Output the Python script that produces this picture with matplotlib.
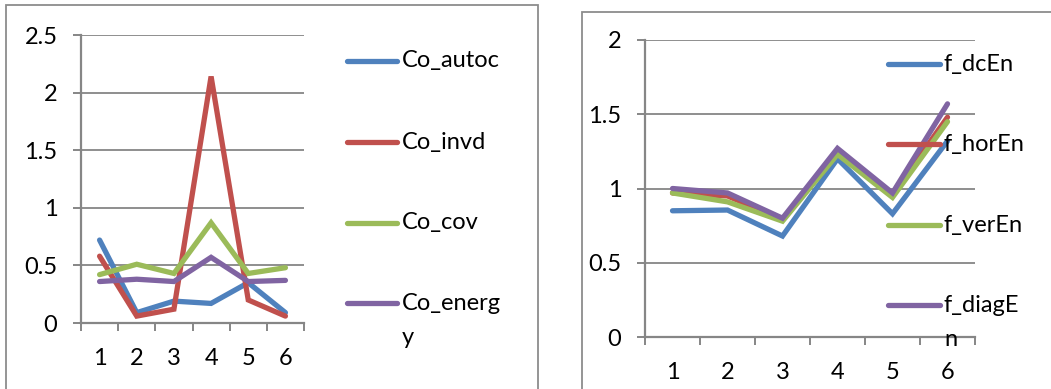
import matplotlib
matplotlib.use("Agg")
import matplotlib.pyplot as plt
from matplotlib.lines import Line2D
from matplotlib.patches import Rectangle
from matplotlib.ticker import FixedLocator, NullFormatter

plt.rcParams['font.family'] = ['Lato', 'DejaVu Sans']

categories = [1, 2, 3, 4, 5, 6]

left_names = ["Co_autoc", "Co_invd", "Co_cov", "Co_energy"]
co_autoc = [0.72, 0.09, 0.19, 0.17, 0.35, 0.09]
co_invd = [0.58, 0.06, 0.12, 2.14, 0.20, 0.06]
co_cov = [0.42, 0.51, 0.43, 0.87, 0.43, 0.48]
co_energy = [0.36, 0.38, 0.36, 0.57, 0.36, 0.37]
left_yticks = [0, 0.5, 1, 1.5, 2, 2.5]
left_yticklabels = ["0", "0.5", "1", "1.5", "2", "2.5"]

right_names = ["f_dcEn", "f_horEn", "f_verEn", "f_diagEn"]
f_dcEn = [0.85, 0.855, 0.68, 1.20, 0.83, 1.32]
f_horEn = [0.97, 0.95, 0.79, 1.25, 0.96, 1.48]
f_verEn = [0.97, 0.91, 0.78, 1.23, 0.94, 1.45]
f_diagEn = [1.00, 0.97, 0.80, 1.27, 0.97, 1.57]
right_yticks = [0, 0.5, 1, 1.5, 2]
right_yticklabels = ["0", "0.5", "1", "1.5", "2"]

colors = ["#4F81BD", "#C0504D", "#9BBB59", "#8064A2"]
grid_c = "#868686"
FS = 17

W, H = 1051, 389
fig = plt.figure(figsize=(W / 100, H / 100), dpi=100)


def px_box(x0, y0, x1, y1):
    return [x0 / W, 1 - y1 / H, (x1 - x0) / W, (y1 - y0) / H]


def setup_axes(ax, ymax, yticks, yticklabels):
    n = len(categories)
    ax.set_xlim(0.5, n + 0.5)
    ax.set_ylim(0, ymax)
    for s in ["top", "right"]:
        ax.spines[s].set_visible(False)
    for s in ["left", "bottom"]:
        ax.spines[s].set_color(grid_c)
        ax.spines[s].set_linewidth(1.6)
    ax.set_yticks(yticks)
    ax.set_yticklabels(yticklabels)
    ax.set_xticks(categories)
    ax.set_xticklabels([str(c) for c in categories])
    ax.xaxis.set_minor_locator(FixedLocator([i + 0.5 for i in range(n + 1)]))
    ax.xaxis.set_minor_formatter(NullFormatter())
    ax.tick_params(axis='x', which='major', length=0, pad=18, labelsize=FS)
    ax.tick_params(axis='x', which='minor', length=6, width=1.4, color=grid_c, direction='out')
    ax.tick_params(axis='y', which='major', length=6, width=1.4, color=grid_c, pad=11, labelsize=FS)
    ax.yaxis.grid(True, color=grid_c, linewidth=1.3)
    ax.set_axisbelow(True)
    ax.set_facecolor("none")


def draw_legend(names, handle_x0, handle_x1, text_x, ys, wrap, line_h):
    for name, y, c in zip(names, ys, colors):
        fig.add_artist(Line2D([handle_x0 / W, handle_x1 / W], [1 - y / H, 1 - y / H],
                              color=c, lw=3.8, solid_capstyle='round', transform=fig.transFigure))
        parts = [name[:wrap]] + ([name[wrap:]] if len(name) > wrap else [])
        for i, p in enumerate(parts):
            fig.text(text_x / W, 1 - (y + i * line_h) / H, p, fontsize=FS,
                     va='center', ha='left')


# chart borders
fig.add_artist(Rectangle((6 / W, -0.05), (538 - 6) / W, 1.05 - 5 / H, transform=fig.transFigure,
                         fill=False, edgecolor="#8C8C8C", lw=1.3))
fig.add_artist(Rectangle((582 / W, -0.05), 0.6, 1.05 - 12 / H, transform=fig.transFigure,
                         fill=False, edgecolor="#8C8C8C", lw=1.3))

# left chart
ax1 = fig.add_axes(px_box(81, 35, 304, 323))
setup_axes(ax1, 2.5, left_yticks, left_yticklabels)
for vals, c in zip([co_autoc, co_invd, co_cov, co_energy], colors):
    ax1.plot(categories, vals, color=c, lw=3.8, solid_joinstyle='miter', solid_capstyle='round')
draw_legend(left_names, 347, 397, 402, [61, 142, 223, 303], 8, 34)

# right chart
ax2 = fig.add_axes(px_box(645, 40, 975, 337))
setup_axes(ax2, 2, right_yticks, right_yticklabels)
for vals, c in zip([f_dcEn, f_horEn, f_verEn, f_diagEn], colors):
    ax2.plot(categories, vals, color=c, lw=3.8, solid_joinstyle='miter', solid_capstyle='round')
draw_legend(right_names, 888, 940, 944, [64, 144, 225, 305], 7, 34)

fig.savefig("out.png", dpi=100)
